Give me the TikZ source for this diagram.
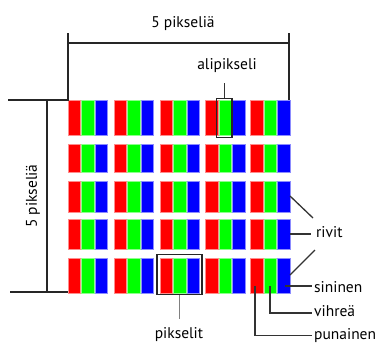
\documentclass[tikz,border=0pt]{standalone}
\usepackage{fontspec}
\setmainfont{PT Sans}
\begin{document}
\begin{tikzpicture}[x=1pt,y=-1pt,
  lbl/.style={font=\fontsize{15.5}{18}\selectfont, inner sep=0pt},
  dim/.style={line width=1.3pt, black!85},
  conn/.style={line width=1.3pt, black!80},
  hbox/.style={draw=black!85, line width=1.4pt, inner sep=0pt, fill=none},
  sub/.style={line width=0.6pt}]
\useasboundingbox (0,0) rectangle (383,343);
% subpixels
\foreach \t/\b in {100/135,144/172,181/212,219/249,258/293} {
  \foreach \p in {68,114,160,205.5,250.5} {
    \filldraw[sub, fill=red, draw=red!45] (\p,\t) rectangle (\p+12.3,\b);
    \filldraw[sub, fill=green, draw=green!45] (\p+13.6,\t) rectangle (\p+25.9,\b);
    \filldraw[sub, fill=blue, draw=blue!45] (\p+27.2,\t) rectangle (\p+39.5,\b);
  }
}
% labels
\node[lbl, anchor=base] (toplbl) at (183,27) {5 pikseliä};
\node[lbl, rotate=90] (leftlbl) at (33,196) {5 pikseliä};
\node[lbl, anchor=base] (ali) at (227,69) {alipikseli};
\node[lbl, anchor=base] (pix) at (179,338) {pikselit};
\node[lbl, anchor=base west] (rivit) at (316,237) {rivit};
\node[lbl, anchor=base west] (sin) at (314,292) {sininen};
\node[lbl, anchor=base west] (vih) at (314,316) {vihreä};
\node[lbl, anchor=base west] (pun) at (314,339) {punainen};
% dimension lines
\coordinate (tl) at (68,33);
\coordinate (tr) at (289,33);
\coordinate (tlb) at (68,100);
\coordinate (trb) at (289,100);
\coordinate (lt) at (8,100);
\coordinate (lb) at (10,292);
\coordinate (lbr) at (68,292);
\draw[dim] (tl) -- (tlb) -- (lt);
\draw[dim] (tr) -- (trb);
\draw[dim] (68,43) -- (289,43);
\draw[dim] (47,100) -- (47,292);
\draw[dim] (lb) -- (lbr);
% highlight boxes
\node[hbox, minimum width=15.5pt, minimum height=39.5pt] (asub) at (224.3,118) {};
\node[hbox, minimum width=45pt, minimum height=40.5pt] (pbox) at (179.5,274.5) {};
\coordinate (alitop) at (224.3,83);
\draw[conn] (asub.north) -- (alitop);
\coordinate (pixend) at (179.5,319);
\draw[line width=1.3pt, black!50] (pbox.south) -- (pixend);
% rivit connectors
\coordinate (r3) at (290,196);
\coordinate (r4) at (290,234);
\coordinate (r5) at (290,275);
\coordinate (r3e) at (313,218);
\coordinate (r4e) at (311,234);
\coordinate (r5e) at (315,250);
\draw[conn] (r3) -- (r3e);
\draw[conn] (r4) -- (r4e);
\draw[conn] (r5) -- (r5e);
% colour connectors
\coordinate (bs) at (285,286);
\coordinate (be) at (312,286);
\draw[conn] (bs) -- (be);
\coordinate (gs) at (270,286);
\coordinate (ge) at (312,313);
\draw[conn] (gs) |- (ge);
\coordinate (rs) at (255,286);
\coordinate (re) at (312,335.5);
\draw[conn] (rs) |- (re);
\end{tikzpicture}
\end{document}
